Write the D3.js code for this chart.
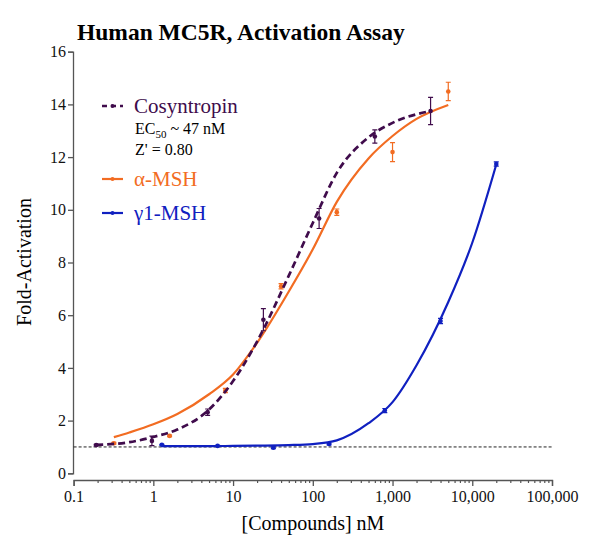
<!DOCTYPE html>
<html>
<head>
<meta charset="utf-8">
<script src="https://cdn.jsdelivr.net/npm/d3@7"></script>
<style>
  body { margin: 0; background: #fff; }
  svg text { font-family: "Liberation Serif", "Times New Roman", serif; }
</style>
</head>
<body>
<script>
// concentrations (nM) and fold-activation
const cosyX = [0.192, 0.96, 4.8, 24, 120, 600, 3000]
const cosyY = [1.07, 1.23, 2.32, 5.83, 9.67, 12.78, 13.75]
const cosyErr = [0.03, 0.18, 0.12, 0.42, 0.38, 0.25, 0.52]

const alphaX = [0.32, 1.6, 8, 40, 200, 1000, 5000]
const alphaY = [1.14, 1.42, 3.14, 7.1, 9.91, 12.19, 14.49]
const alphaErr = [0.03, 0.03, 0.08, 0.1, 0.12, 0.36, 0.35]

const gammaX = [1.28, 6.4, 32, 160, 800, 4000, 20000]
const gammaY = [1.08, 1.04, 0.97, 1.11, 2.38, 5.78, 11.74]
const gammaErr = [0.02, 0.02, 0.03, 0.03, 0.08, 0.1, 0.08]

// fitted curves
const cosyFitX = [0.192, 0.5, 1, 2, 5, 10, 20, 50, 100, 200, 500, 1000, 3000]
const cosyFitY = [1.08, 1.18, 1.38, 1.66, 2.42, 3.5, 5.0, 7.5, 9.5, 11.4, 12.75, 13.3, 13.75]
const alphaFitX = [0.32, 0.5, 1, 2, 5, 10, 20, 50, 100, 200, 500, 1000, 2000, 5000]
const alphaFitY = [1.37, 1.55, 1.86, 2.25, 3.0, 3.75, 4.95, 6.9, 8.5, 10.3, 11.95, 12.8, 13.45, 13.98]
const gammaFitX = [1.28, 5, 10, 20, 50, 100, 200, 500, 1000, 2000, 5000, 10000, 20000]
const gammaFitY = [1.03, 1.03, 1.04, 1.05, 1.07, 1.11, 1.25, 1.9, 2.7, 4.1, 6.5, 8.75, 11.72]

const xTicks = [0.1, 1, 10, 100, 1000, 10000, 100000]
const yTicks = [0, 2, 4, 6, 8, 10, 12, 14, 16]
const baseline = 1

const purple = "#400c4c", orange = "#f26c22", blue = "#1020c0"
const serif = "Liberation Serif"

const svg = d3.select("body").append("svg")
  .attr("width", 600)
  .attr("height", 547)
  .attr("font-family", serif)

const x = d3.scaleLog().domain([0.1, 100000]).range([73.6, 552])
const y = d3.scaleLinear().domain([0, 16]).range([473.3, 51.7])

// title
svg.append("text")
  .attr("x", 77).attr("y", 40)
  .attr("font-size", 23.5).attr("font-weight", "bold")
  .text("Human MC5R, Activation Assay")

// y axis
const yAxis = svg.append("g")
  .attr("transform", "translate(73,0)")
  .call(d3.axisLeft(y).tickValues(yTicks).tickSize(5).tickPadding(2))
yAxis.attr("font-family", serif)
yAxis.selectAll("text").attr("font-size", 16).attr("fill", "#111")
yAxis.selectAll("line, path").attr("stroke", "#555").attr("stroke-width", 1.3)

// x axis, offset below the plot
const xAxis = svg.append("g")
  .attr("transform", "translate(0,480)")
  .call(d3.axisBottom(x).tickValues(xTicks).tickSize(6).tickPadding(5)
    .tickFormat(d => d < 1 ? "0.1" : d3.format(",")(d)))
xAxis.attr("font-family", serif)
xAxis.selectAll("text").attr("font-size", 16).attr("fill", "#111")
xAxis.selectAll("line, path").attr("stroke", "#555").attr("stroke-width", 1.3)

const minor = []
xTicks.slice(0, -1).forEach(t => { for (let k = 2; k < 10; k++) minor.push(t * k) })
svg.append("g")
  .attr("transform", "translate(0,480)")
  .call(d3.axisBottom(x).tickValues(minor).tickSize(3).tickFormat(""))
  .call(g => g.select(".domain").remove())
  .selectAll("line").attr("stroke", "#555").attr("stroke-width", 1.2)

// axis titles
svg.append("text")
  .attr("x", 313).attr("y", 530)
  .attr("text-anchor", "middle").attr("font-size", 20)
  .text("[Compounds] nM")
svg.append("text")
  .attr("transform", "translate(31,262) rotate(-90)")
  .attr("text-anchor", "middle").attr("font-size", 20)
  .text("Fold-Activation")

// baseline
svg.append("line")
  .attr("x1", x(0.1)).attr("x2", x(100000))
  .attr("y1", y(baseline)).attr("y2", y(baseline))
  .attr("stroke", "#222").attr("stroke-width", 1)
  .attr("stroke-dasharray", "3,2")

const line = d3.line()
  .x(d => x(d[0]))
  .y(d => y(d[1]))
  .curve(d3.curveMonotoneX)

function drawSeries(fx, fy, px, py, err, color, dash, width) {
  svg.append("path")
    .datum(fx.map((v, i) => [v, fy[i]]))
    .attr("d", line)
    .attr("fill", "none")
    .attr("stroke", color)
    .attr("stroke-width", width)
    .attr("stroke-dasharray", dash)
  const pts = px.map((v, i) => ({ x: v, y: py[i], e: err[i] }))
  const g = svg.append("g").attr("stroke", color).attr("stroke-width", 1.2)
  g.selectAll(".eb").data(pts).enter().append("path")
    .attr("d", d => {
      const cx = x(d.x), y0 = y(d.y - d.e), y1 = y(d.y + d.e)
      return `M${cx},${y0}V${y1}M${cx - 2.5},${y0}H${cx + 2.5}M${cx - 2.5},${y1}H${cx + 2.5}`
    })
    .attr("fill", "none")
  svg.append("g").selectAll("circle").data(pts).enter().append("circle")
    .attr("cx", d => x(d.x))
    .attr("cy", d => y(d.y))
    .attr("r", 2.3)
    .attr("fill", color)
}

drawSeries(gammaFitX, gammaFitY, gammaX, gammaY, gammaErr, blue, null, 2.2)
drawSeries(alphaFitX, alphaFitY, alphaX, alphaY, alphaErr, orange, null, 2.2)
drawSeries(cosyFitX, cosyFitY, cosyX, cosyY, cosyErr, purple, "7,4", 2.7)

// legend
const legend = [
  { name: "Cosyntropin", color: purple, dash: "5,4", y: 106 },
  { name: "\u03b1-MSH", color: orange, dash: null, y: 179 },
  { name: "\u03b31-MSH", color: blue, dash: null, y: 213 }
]
legend.forEach(l => {
  svg.append("line")
    .attr("x1", 102).attr("x2", 123)
    .attr("y1", l.y).attr("y2", l.y)
    .attr("stroke", l.color).attr("stroke-width", l.dash ? 2.6 : 2.2)
    .attr("stroke-dasharray", l.dash)
  svg.append("circle")
    .attr("cx", 112.5).attr("cy", l.y).attr("r", 2)
    .attr("fill", l.color)
  svg.append("text")
    .attr("x", 134).attr("y", l.y + 7)
    .attr("font-size", 21).attr("fill", l.color)
    .text(l.name)
})

const ec = svg.append("text")
  .attr("x", 135).attr("y", 133.5)
  .attr("font-size", 16)
ec.append("tspan").text("EC")
ec.append("tspan").attr("font-size", 11).attr("dy", 4).text("50")
ec.append("tspan").attr("dy", -4).text(" ~ 47 nM")

svg.append("text")
  .attr("x", 135).attr("y", 154.5)
  .attr("font-size", 16)
  .text("Z' = 0.80")
</script>
</body>
</html>
